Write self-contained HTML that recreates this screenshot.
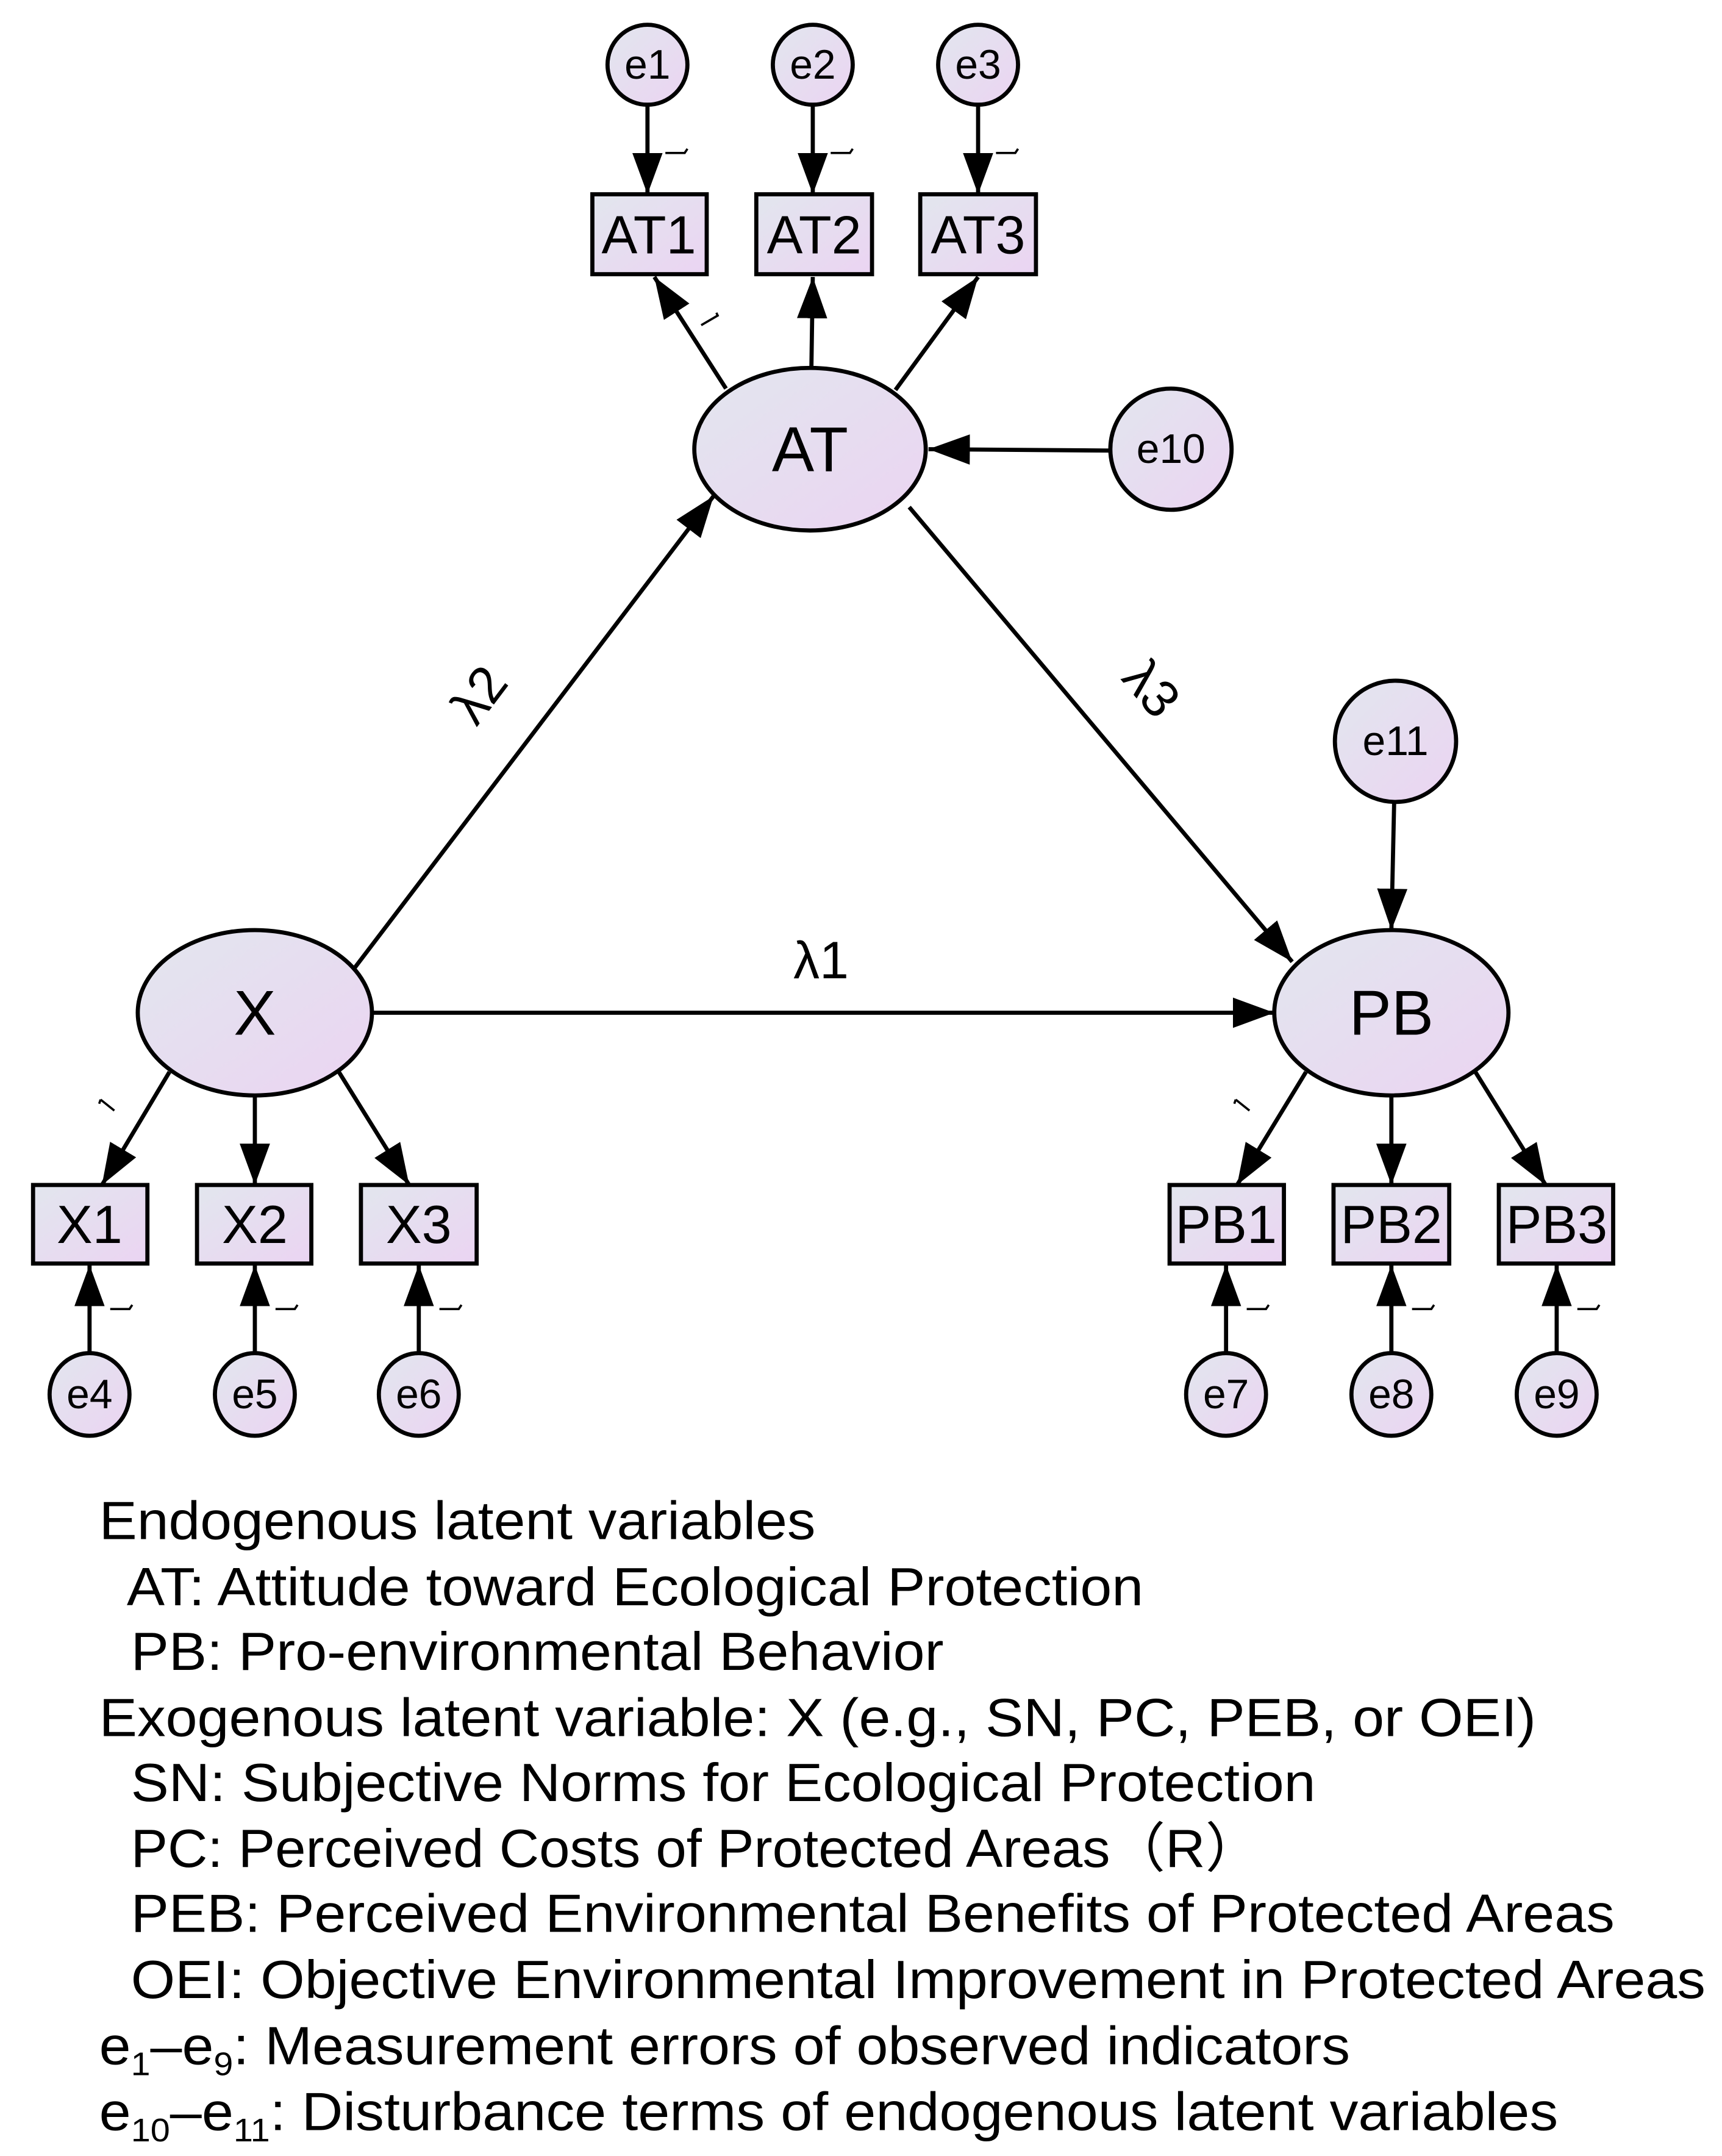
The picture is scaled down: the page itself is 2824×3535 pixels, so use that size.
<!DOCTYPE html>
<html><head><meta charset="utf-8"><style>
html,body{margin:0;padding:0;background:#fff}
svg{display:block}
text{font-family:"Liberation Sans",Arial,sans-serif;fill:#000}
</style></head><body>
<svg width="2824" height="3535" viewBox="0 0 1250 1564.7" preserveAspectRatio="none" xmlns="http://www.w3.org/2000/svg">
<defs>
<linearGradient id="g" x1="0" y1="0" x2="1" y2="1">
<stop offset="0" stop-color="#e2e6ee"/><stop offset="1" stop-color="#ebd4f2"/>
</linearGradient>
<marker id="a" markerUnits="userSpaceOnUse" markerWidth="30" markerHeight="22" refX="30" refY="11" orient="auto">
<path d="M0,0 L30,11 L0,22 Z" fill="#000"/>
</marker>
</defs>
<g stroke="#000" stroke-width="3" fill="none" marker-end="url(#a)">
<line x1="470" y1="76" x2="470" y2="141"/>
<line x1="590" y1="76" x2="590" y2="141"/>
<line x1="710" y1="76" x2="710" y2="141"/>
<line x1="527" y1="282" x2="475" y2="201"/>
<line x1="589" y1="266" x2="590" y2="201"/>
<line x1="650" y1="283" x2="710" y2="201"/>
<line x1="257" y1="703" x2="518" y2="360"/>
<line x1="660" y1="368" x2="938" y2="698"/>
<line x1="270" y1="735" x2="925" y2="735"/>
<line x1="1012" y1="583" x2="1010" y2="675"/>
<line x1="806" y1="327" x2="674" y2="326"/>
<line x1="123" y1="778" x2="74" y2="860"/>
<line x1="185" y1="795" x2="185" y2="860"/>
<line x1="246" y1="778" x2="297" y2="860"/>
<line x1="948" y1="778" x2="898" y2="860"/>
<line x1="1010" y1="795" x2="1010" y2="860"/>
<line x1="1071" y1="778" x2="1122" y2="860"/>
<line x1="65" y1="983" x2="65" y2="918"/>
<line x1="185" y1="983" x2="185" y2="918"/>
<line x1="304" y1="983" x2="304" y2="918"/>
<line x1="890" y1="983" x2="890" y2="918"/>
<line x1="1010" y1="983" x2="1010" y2="918"/>
<line x1="1130" y1="983" x2="1130" y2="918"/>
</g>
<g stroke="#000" stroke-width="3" fill="url(#g)">
<circle cx="470" cy="47" r="29"/><circle cx="590" cy="47" r="29"/><circle cx="710" cy="47" r="29"/>
<rect x="430" y="141" width="83" height="58"/><rect x="549" y="141" width="84" height="58"/><rect x="668" y="141" width="84" height="58"/>
<ellipse cx="588" cy="326" rx="84" ry="59"/>
<circle cx="850" cy="326" r="44"/>
<circle cx="1013" cy="538" r="44"/>
<ellipse cx="185" cy="735" rx="85" ry="60"/>
<ellipse cx="1010" cy="735" rx="85" ry="60"/>
<rect x="24" y="860" width="83" height="57"/><rect x="143" y="860" width="83" height="57"/><rect x="262" y="860" width="84" height="57"/>
<rect x="849" y="860" width="83" height="57"/><rect x="968" y="860" width="84" height="57"/><rect x="1088" y="860" width="83" height="57"/>
<ellipse cx="65" cy="1012" rx="29" ry="30"/><ellipse cx="185" cy="1012" rx="29" ry="30"/><ellipse cx="304" cy="1012" rx="29" ry="30"/>
<ellipse cx="890" cy="1012" rx="29" ry="30"/><ellipse cx="1010" cy="1012" rx="29" ry="30"/><ellipse cx="1130" cy="1012" rx="29" ry="30"/>
</g>
<g font-size="30" text-anchor="middle">
<text x="470" y="57">e1</text><text x="590" y="57">e2</text><text x="710" y="57">e3</text>
<text x="850" y="336">e10</text><text x="1013" y="548">e11</text>
<text x="65" y="1022">e4</text><text x="185" y="1022">e5</text><text x="304" y="1022">e6</text>
<text x="890" y="1022">e7</text><text x="1010" y="1022">e8</text><text x="1130" y="1022">e9</text>
</g>
<g font-size="39" text-anchor="middle">
<text x="471" y="184">AT1</text><text x="591" y="184">AT2</text><text x="710" y="184">AT3</text>
<text x="65" y="902">X1</text><text x="185" y="902">X2</text><text x="304" y="902">X3</text>
<text x="890" y="902">PB1</text><text x="1010" y="902">PB2</text><text x="1130" y="902">PB3</text>
</g>
<g font-size="46" text-anchor="middle">
<text x="588" y="342">AT</text><text x="185" y="751">X</text><text x="1010" y="751">PB</text>
</g>
<g font-size="38" text-anchor="middle">
<text x="596" y="710">λ1</text>
<text transform="translate(358,512) rotate(-53)">λ2</text>
<text transform="translate(826,508) rotate(50)">λ3</text>
</g>
<g stroke="#000" stroke-width="1.6" fill="none">
<path d="M483,111 h14 l2,-3"/><path d="M603,111 h14 l2,-3"/><path d="M723,111 h14 l2,-3"/>
<path d="M509,236 l12,-7 l-1,-2"/>
<path d="M80,950 h14 l2,-3"/><path d="M200,950 h14 l2,-3"/><path d="M319,950 h14 l2,-3"/>
<path d="M905,950 h14 l2,-3"/><path d="M1025,950 h14 l2,-3"/><path d="M1145,950 h14 l2,-3"/>
<path d="M73,798 l10,8 M73,798 l-1,3"/><path d="M897,798 l10,8 M897,798 l-1,3"/>
</g>
<g font-size="39" lengthAdjust="spacingAndGlyphs">
<text x="72" y="1117" textLength="520" lengthAdjust="spacingAndGlyphs">Endogenous latent variables</text>
<text x="92" y="1165" textLength="738" lengthAdjust="spacingAndGlyphs">AT: Attitude toward Ecological Protection</text>
<text x="95" y="1212" textLength="590" lengthAdjust="spacingAndGlyphs">PB: Pro-environmental Behavior</text>
<text x="72" y="1260" textLength="1043" lengthAdjust="spacingAndGlyphs">Exogenous latent variable: X (e.g., SN, PC, PEB, or OEI)</text>
<text x="95" y="1307" textLength="860" lengthAdjust="spacingAndGlyphs">SN: Subjective Norms for Ecological Protection</text>
<text x="95" y="1355" textLength="820" lengthAdjust="spacingAndGlyphs">PC: Perceived Costs of Protected Areas（R）</text>
<text x="95" y="1402" textLength="1077" lengthAdjust="spacingAndGlyphs">PEB: Perceived Environmental Benefits of Protected Areas</text>
<text x="95" y="1450" textLength="1143" lengthAdjust="spacingAndGlyphs">OEI: Objective Environmental Improvement in Protected Areas</text>
<text x="72" y="1498" textLength="908" lengthAdjust="spacingAndGlyphs">e<tspan font-size="24" dy="8">1</tspan><tspan dy="-8">–e</tspan><tspan font-size="24" dy="8">9</tspan><tspan dy="-8">: Measurement errors of observed indicators</tspan></text>
<text x="72" y="1546" textLength="1059" lengthAdjust="spacingAndGlyphs">e<tspan font-size="24" dy="8">10</tspan><tspan dy="-8">–e</tspan><tspan font-size="24" dy="8">11</tspan><tspan dy="-8">: Disturbance terms of endogenous latent variables</tspan></text>
</g>
</svg>
</body></html>
